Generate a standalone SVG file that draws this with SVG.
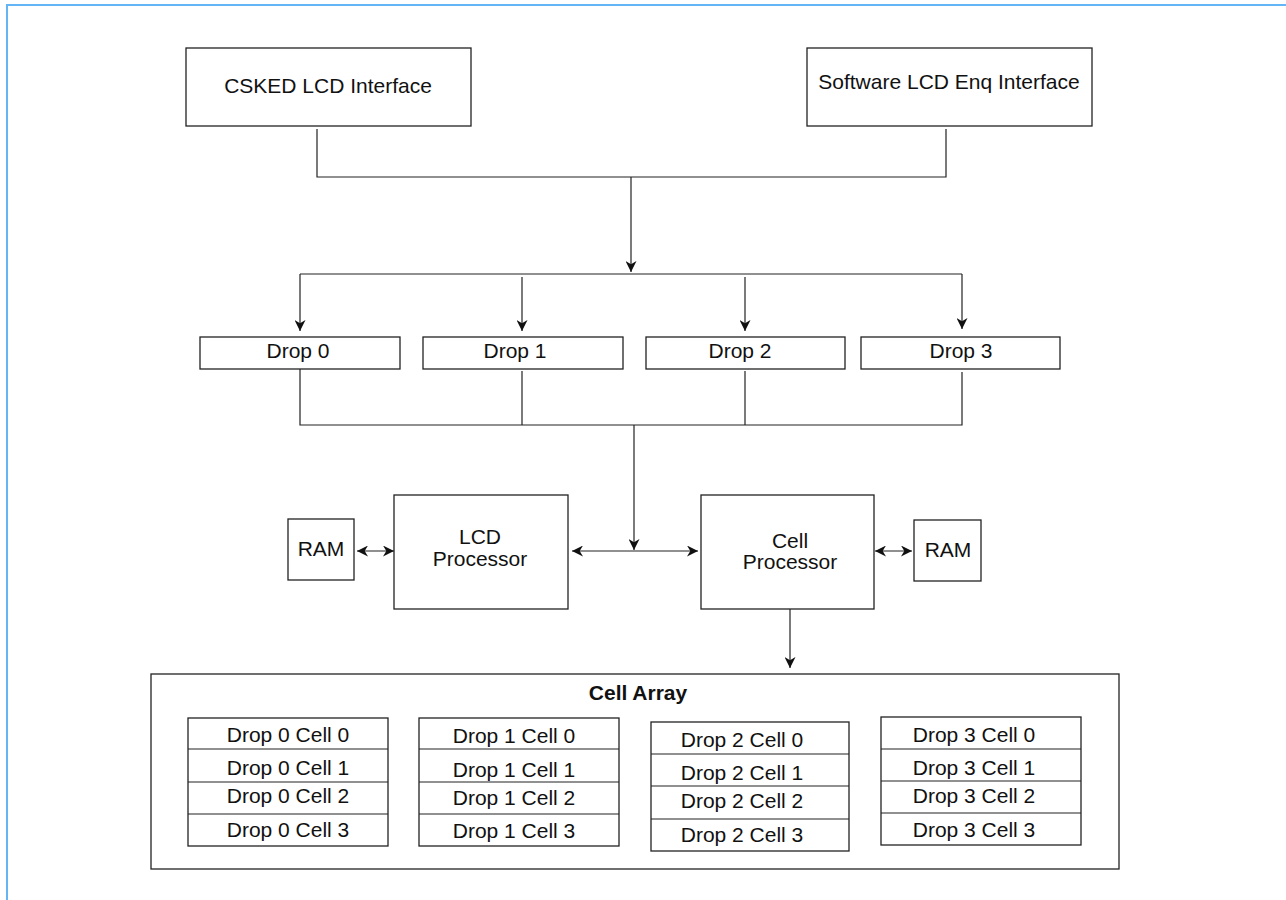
<svg xmlns="http://www.w3.org/2000/svg" width="1286" height="900" viewBox="0 0 1286 900">
<style>
.box{fill:#fff;stroke:#222;stroke-width:1.3}
.t{font-family:"Liberation Sans",Arial,sans-serif;font-size:21px;fill:#111;text-anchor:middle}
.b{font-weight:bold}
.ln{fill:none;stroke:#222;stroke-width:1.2}
.arr{marker-end:url(#ah)}
.bi{marker-start:url(#ahs);marker-end:url(#ah)}
</style>
<defs>
<marker id="ah" viewBox="0 0 10 10" refX="10" refY="5" markerWidth="11" markerHeight="11" markerUnits="userSpaceOnUse" orient="auto">
<path d="M0,0 L10,5 L0,10 L3,5 z" fill="#111"/>
</marker>
<marker id="ahs" viewBox="0 0 10 10" refX="0" refY="5" markerWidth="11" markerHeight="11" markerUnits="userSpaceOnUse" orient="auto">
<path d="M10,0 L0,5 L10,10 L7,5 z" fill="#111"/>
</marker>
</defs>
<rect width="1286" height="900" fill="#fff"/>
<g id="frame">
<path d="M7,900 V5 H1286" fill="none" stroke="#64b5f6" stroke-width="2"/>
</g>
<g id="connectors">
<path class="ln" d="M317,129 V177 H946 V129"/>
<path class="ln arr" d="M631,177 V272"/>
<path class="ln" d="M300,274 H962"/>
<path class="ln arr" d="M300,274 V331"/>
<path class="ln arr" d="M522,277 V331"/>
<path class="ln arr" d="M745,277 V331"/>
<path class="ln arr" d="M962,274 V329"/>
<path class="ln" d="M300,369 V425 H962 V372"/>
<path class="ln" d="M522,371 V425"/>
<path class="ln" d="M745,371 V425"/>
<path class="ln arr" d="M634,425 V550"/>
<path class="ln bi" d="M572,551 H698"/>
<path class="ln bi" d="M357,551 H394"/>
<path class="ln bi" d="M875,551 H912"/>
<path class="ln arr" d="M790,609 V668"/>
</g>
<g id="csked">
<rect class="box" x="186" y="48" width="285" height="78"/>
<text class="t" x="328" y="93">CSKED LCD Interface</text>
</g>
<g id="software">
<rect class="box" x="807" y="48" width="285" height="78"/>
<text class="t" x="949" y="89">Software LCD Enq Interface</text>
</g>
<g id="drop0"><rect class="box" x="200" y="337" width="200" height="32"/><text class="t" x="298" y="358">Drop 0</text></g>
<g id="drop1"><rect class="box" x="423" y="337" width="200" height="32"/><text class="t" x="515" y="358">Drop 1</text></g>
<g id="drop2"><rect class="box" x="646" y="337" width="199" height="32"/><text class="t" x="740" y="358">Drop 2</text></g>
<g id="drop3"><rect class="box" x="861" y="337" width="199" height="32"/><text class="t" x="961" y="358">Drop 3</text></g>
<g id="ram-left"><rect class="box" x="288" y="519" width="66" height="61"/><text class="t" x="321" y="556">RAM</text></g>
<g id="lcd-processor">
<rect class="box" x="394" y="495" width="174" height="114"/>
<text class="t" x="480" y="544">LCD</text>
<text class="t" x="480" y="566">Processor</text>
</g>
<g id="cell-processor">
<rect class="box" x="701" y="495" width="173" height="114"/>
<text class="t" x="790" y="548">Cell</text>
<text class="t" x="790" y="569">Processor</text>
</g>
<g id="ram-right"><rect class="box" x="914" y="520" width="67" height="61"/><text class="t" x="948" y="557">RAM</text></g>
<g id="cell-array">
<rect class="box" x="151" y="674" width="968" height="195"/>
<text class="t b" x="638" y="700">Cell Array</text>
</g>
<g id="drop0-cells">
<rect class="box" x="188" y="718" width="200" height="128"/>
<path class="ln" d="M188,749 H388 M188,782 H388 M188,814 H388"/>
<text class="t" x="288" y="742">Drop 0 Cell 0</text>
<text class="t" x="288" y="775">Drop 0 Cell 1</text>
<text class="t" x="288" y="803">Drop 0 Cell 2</text>
<text class="t" x="288" y="837">Drop 0 Cell 3</text>
</g>
<g id="drop1-cells">
<rect class="box" x="419" y="718" width="200" height="128"/>
<path class="ln" d="M419,749 H619 M419,782 H619 M419,814 H619"/>
<text class="t" x="514" y="743">Drop 1 Cell 0</text>
<text class="t" x="514" y="777">Drop 1 Cell 1</text>
<text class="t" x="514" y="805">Drop 1 Cell 2</text>
<text class="t" x="514" y="838">Drop 1 Cell 3</text>
</g>
<g id="drop2-cells">
<rect class="box" x="651" y="722" width="198" height="129"/>
<path class="ln" d="M651,754 H849 M651,786 H849 M651,819 H849"/>
<text class="t" x="742" y="747">Drop 2 Cell 0</text>
<text class="t" x="742" y="780">Drop 2 Cell 1</text>
<text class="t" x="742" y="808">Drop 2 Cell 2</text>
<text class="t" x="742" y="842">Drop 2 Cell 3</text>
</g>
<g id="drop3-cells">
<rect class="box" x="881" y="717" width="200" height="128"/>
<path class="ln" d="M881,749 H1081 M881,781 H1081 M881,813 H1081"/>
<text class="t" x="974" y="742">Drop 3 Cell 0</text>
<text class="t" x="974" y="775">Drop 3 Cell 1</text>
<text class="t" x="974" y="803">Drop 3 Cell 2</text>
<text class="t" x="974" y="837">Drop 3 Cell 3</text>
</g>
</svg>
